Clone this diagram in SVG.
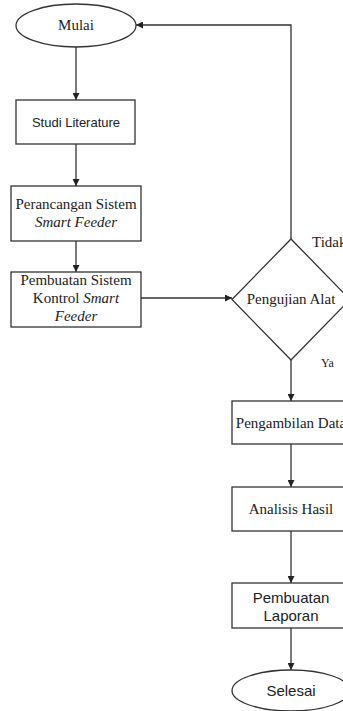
<svg xmlns="http://www.w3.org/2000/svg" width="343" height="711" viewBox="0 0 343 711">
<style>
.shape{fill:#fff;stroke:#333;stroke-width:1.3}
.edge{fill:none;stroke:#333;stroke-width:1.3}
.serif{font-family:"Liberation Serif","Times New Roman",serif;font-size:15px;fill:#222;text-anchor:middle}
.sans{font-family:"Liberation Sans",Arial,sans-serif;font-size:15px;fill:#222;text-anchor:middle}
.it{font-style:italic}
</style>
<defs>
<marker id="arr" viewBox="0 0 10 10" refX="10" refY="5" markerWidth="7" markerHeight="7" orient="auto" markerUnits="userSpaceOnUse">
<path d="M0,0 L10,5 L0,10 z" fill="#222"/>
</marker>
</defs>
<g id="connectors">
<path class="edge" d="M76,47 V100" marker-end="url(#arr)"/>
<path class="edge" d="M76,144 V186" marker-end="url(#arr)"/>
<path class="edge" d="M76,241 V272" marker-end="url(#arr)"/>
<path class="edge" d="M141,298 H232" marker-end="url(#arr)"/>
<path class="edge" d="M291,239 V25 H136" marker-end="url(#arr)"/>
<path class="edge" d="M291,360 V401" marker-end="url(#arr)"/>
<path class="edge" d="M291,444 V487" marker-end="url(#arr)"/>
<path class="edge" d="M291,531 V583" marker-end="url(#arr)"/>
<path class="edge" d="M291,628 V670" marker-end="url(#arr)"/>
<text class="serif" x="312" y="247" style="text-anchor:start">Tidak</text>
<text class="serif" x="321" y="367" style="text-anchor:start;font-size:12px">Ya</text>
</g>
<g id="mulai">
<ellipse class="shape" cx="76" cy="25.5" rx="60" ry="21.5"/>
<text class="serif" x="76" y="30">Mulai</text>
</g>
<g id="studi">
<rect class="shape" x="16" y="100" width="119" height="44"/>
<text class="sans" x="76" y="127" style="font-size:13px">Studi Literature</text>
</g>
<g id="perancangan">
<rect class="shape" x="11" y="186" width="130" height="55"/>
<text class="serif" x="76" y="209">Perancangan Sistem</text>
<text class="serif it" x="76" y="227">Smart Feeder</text>
</g>
<g id="pembuatan-sistem">
<rect class="shape" x="11" y="272" width="130" height="55"/>
<text class="serif" x="76" y="285">Pembuatan Sistem</text>
<text class="serif" x="76" y="303">Kontrol <tspan class="it">Smart</tspan></text>
<text class="serif it" x="76" y="321">Feeder</text>
</g>
<g id="pengujian">
<polygon class="shape" points="291,239 350,299.5 291,360 232,299.5"/>
<text class="serif" x="291" y="304">Pengujian Alat</text>
</g>
<g id="pengambilan">
<rect class="shape" x="232" y="401" width="118" height="43"/>
<text class="serif" x="291" y="428">Pengambilan Data</text>
</g>
<g id="analisis">
<rect class="shape" x="232" y="487" width="118" height="44"/>
<text class="serif" x="291" y="514">Analisis Hasil</text>
</g>
<g id="laporan">
<rect class="shape" x="232" y="583" width="118" height="45"/>
<text class="sans" x="291" y="603">Pembuatan</text>
<text class="sans" x="291" y="621">Laporan</text>
</g>
<g id="selesai">
<ellipse class="shape" cx="291" cy="690.5" rx="59" ry="20.5"/>
<text class="sans" x="291" y="696">Selesai</text>
</g>
</svg>
